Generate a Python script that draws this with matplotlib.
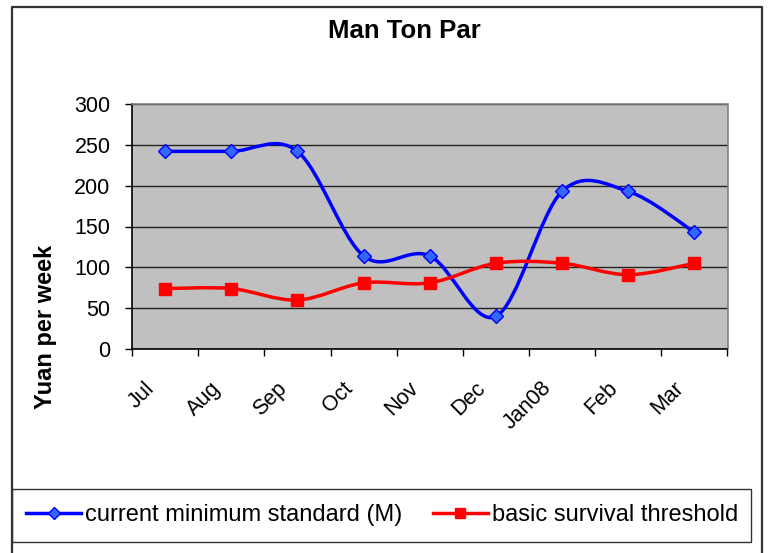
import matplotlib.pyplot as plt
import numpy as np
from matplotlib.path import Path
from matplotlib.patches import PathPatch, Rectangle
from matplotlib.lines import Line2D
from matplotlib.transforms import ScaledTranslation

plt.rcParams['font.family'] = ['Liberation Sans', 'DejaVu Sans']

months = ['Jul', 'Aug', 'Sep', 'Oct', 'Nov', 'Dec', 'Jan08', 'Feb', 'Mar']
current_min = [242, 242, 242, 114, 114, 40, 193, 193, 143]
survival = [74, 74, 60, 81, 81, 105, 105, 91, 105]

W, H = 769, 553


def smooth_path(x, y):
    # Excel-style smoothed line: Catmull-Rom segments as cubic beziers
    pts = np.column_stack([x, y]).astype(float)
    ext = np.vstack([pts[0], pts, pts[-1]])
    verts = [pts[0]]
    codes = [Path.MOVETO]
    for i in range(1, len(ext) - 2):
        p0, p1, p2, p3 = ext[i - 1], ext[i], ext[i + 1], ext[i + 2]
        c1 = p1 + (p2 - p0) / 6
        c2 = p2 - (p3 - p1) / 6
        verts += [c1, c2, p2]
        codes += [Path.CURVE4] * 3
    return Path(verts, codes)


fig = plt.figure(figsize=(W / 100, H / 100), dpi=100)
ax = fig.add_axes([132 / W, 1 - 349 / H, (727.5 - 132) / W, (349 - 104) / H])
ax.set_facecolor('#C0C0C0')

xs = np.arange(len(months)) + 0.5
series = [
    (current_min, 'blue', 'D', '#3366FF', 7.5, 'current minimum standard (M)'),
    (survival, 'red', 's', 'red', 8, 'basic survival threshold'),
]
handles = []
for vals, col, mk, mfc, ms, lab in series:
    ax.add_patch(PathPatch(smooth_path(xs, vals), fill=False, edgecolor=col,
                           lw=2.5, zorder=3, capstyle='round', joinstyle='round'))
    ax.plot(xs, vals, linestyle='none', marker=mk, markersize=ms,
            markerfacecolor=mfc, markeredgecolor=col, markeredgewidth=1, zorder=4)
    handles.append(Line2D([], [], color=col, lw=2.5, marker=mk, markersize=ms - 1,
                          markerfacecolor=mfc, markeredgecolor=col, label=lab))

ax.set_xlim(0, len(months))
ax.set_ylim(0, 300)
ax.set_yticks(np.arange(0, 301, 50))
ax.yaxis.grid(True, color='#222222', lw=1)
ax.set_axisbelow(True)

ax.set_xticks(np.arange(0, len(months) + 1))
ax.set_xticklabels([])
ax.set_xticks(xs, minor=True)
ax.set_xticklabels(months, minor=True, rotation=45, ha='right', va='center',
                   rotation_mode='anchor', fontsize=15.5)
ax.tick_params(axis='x', which='minor', length=0, pad=26)
ax.tick_params(axis='both', which='major', direction='out', length=5, width=1,
               labelsize=15.5, color='black')
ax.tick_params(axis='y', pad=10.5)
shift = ScaledTranslation(-0.14, 0, fig.dpi_scale_trans)
for t in ax.get_xticklabels(minor=True):
    t.set_transform(t.get_transform() + shift)

for s in ['left', 'bottom']:
    ax.spines[s].set_color('black')
    ax.spines[s].set_linewidth(1.2)
for s in ['top', 'right']:
    ax.spines[s].set_color('#808080')
    ax.spines[s].set_linewidth(1.2)

ax.set_ylabel('Yuan per week', fontsize=17, fontweight='bold')
ax.yaxis.set_label_coords((57 - 132) / 595.5, (349 - 327) / 245)
fig.text(404 / W, 1 - 30.5 / H, 'Man Ton Par', ha='center', va='center',
         fontsize=18.5, fontweight='bold')

# chart border
fig.add_artist(Line2D([12 / W, 12 / W, 762 / W, 762 / W],
                      [0, 1 - 7 / H, 1 - 7 / H, 0], transform=fig.transFigure,
                      color='#333333', lw=1.6))

# legend box
fig.add_artist(Rectangle((12 / W, 1 - 542 / H), (751 - 12) / W, (542 - 489) / H,
                         transform=fig.transFigure, fill=False,
                         edgecolor='#333333', lw=1))
fig.legend(handles=handles, loc='center left', bbox_to_anchor=(26 / W, 1 - 515 / H),
           ncol=2, frameon=False, fontsize=17, handlelength=2.33,
           handletextpad=0.17, columnspacing=1.3, borderaxespad=0,
           borderpad=0)

fig.savefig('out.png', dpi=100)
